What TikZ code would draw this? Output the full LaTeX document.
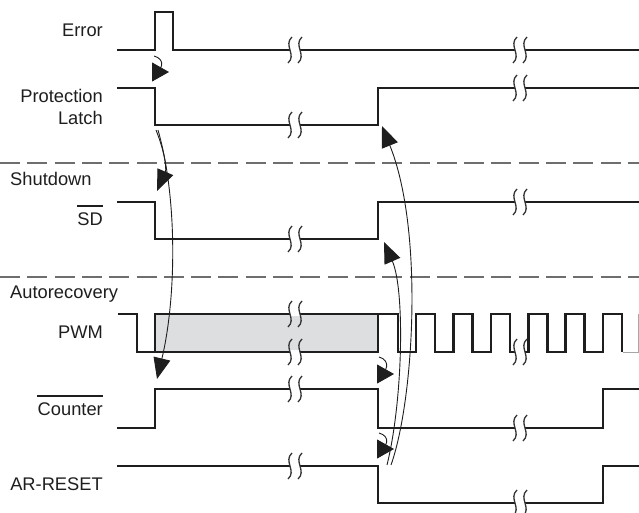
\documentclass[tikz,border=0pt]{standalone}
\usepackage{fontspec}
\setmainfont{Liberation Sans}
\usetikzlibrary{arrows.meta}
\definecolor{inkcolor}{RGB}{30,30,30}
\definecolor{shadecolor}{RGB}{221,222,223}
\definecolor{sepcolor}{RGB}{110,110,110}
\tikzset{
    timing/.style={
        x=1pt, y=-1pt,
        line join=miter,
    },
    sig/.style={draw=inkcolor, line width=2.6pt},
    faded/.style={draw=gray!70, line width=1pt},
    sepline/.style={draw=sepcolor, line width=1.3pt, dash pattern=on 20pt off 7.3pt},
    lbl/.style={font=\fontsize{18.3}{21}\selectfont, text=inkcolor, inner sep=0pt},
    bar/.style={draw=inkcolor, line width=1.8pt},
    brkline/.style={draw=black!80, line width=1.3pt},
    cause/.style={draw=inkcolor, line width=0.9pt, -{Triangle[length=21pt,width=17pt]}},
    nudge/.style={draw=inkcolor, line width=0.9pt, -{Triangle[length=17pt,width=19pt]}},
}
\newcommand{\brk}[2]{% \brk{x}{y}
    \fill[white] ({#1-5},{#2-2}) rectangle ({#1+5},{#2+2});
    \draw[brkline] ({#1-3},{#2-13}) .. controls ({#1-12},{#2-5}) and ({#1+2},{#2+5}) .. ({#1-7},{#2+13});
    \draw[brkline] ({#1+7},{#2-13}) .. controls ({#1-2},{#2-5}) and ({#1+12},{#2+5}) .. ({#1+3},{#2+13});
}
\newcommand{\ovl}[1]{% bar over a label node
    \draw[bar] ([yshift=6pt]#1.north west) -- ([yshift=6pt]#1.north east)
}

\begin{document}
\begin{tikzpicture}
            [timing]
            \useasboundingbox (0,0) rectangle (639,512);
            % labels
            \node[lbl, anchor=base east] (errlbl) at (103,36) {Error};
            \node[lbl, anchor=base east] (latchlbl) at (103,102) {Protection};
            \node[lbl, anchor=base east] (latchlblb) at (103,124) {Latch};
            \node[lbl, anchor=base west] (sdhead) at (10,185) {Shutdown};
            \node[lbl, anchor=base east] (sdlbl) at (103,225) {SD};
            \ovl{sdlbl};
            \node[lbl, anchor=base west] (arhead) at (10,298) {Autorecovery};
            \node[lbl, anchor=base east] (pwmlbl) at (103,338) {PWM};
            \node[lbl, anchor=base east] (cntlbl) at (103,415) {Counter};
            \ovl{cntlbl};
            \node[lbl, anchor=base east] (arlbl) at (103,490) {AR-RESET};
            % section lines
            \draw[sepline] (0,163) -- (639,163);
            \draw[sepline] (0,277) -- (639,277);
            % traces
            \draw[sig] (117,50) -- (155,50) -- (155,12) -- (173,12) -- (173,50) -- (639,50);
            \draw[sig] (117,88) -- (155,88) -- (155,125) -- (378,125) -- (378,88) -- (639,88);
            \draw[sig] (117,202) -- (155,202) -- (155,239) -- (378,239) -- (378,202) -- (639,202);
            \fill[shadecolor] (155,314) rectangle (378,352);
            \draw[sig] (118,314) -- (137,314) -- (137,352) -- (378,352) -- (378,314);
            \draw[sig] (155,352) -- (155,314) -- (398,314) -- (398,352)
                foreach \k in {0,...,5} {
                    -- ({416+37.4*\k},352) -- ({416+37.4*\k},314)
                    -- ({435+37.4*\k},314) -- ({435+37.4*\k},352)
                };
            \draw[faded] (623,352) -- (638.5,352) -- (638.5,314);
            \draw[sig] (117,428) -- (155,428) -- (155,389) -- (378,389) -- (378,428) -- (603,428) -- (603,389) -- (639,389);
            \draw[sig] (117,466) -- (378,466) -- (378,503) -- (603,503) -- (603,466) -- (639,466);
            % breaks
            \foreach \y in {50,125,239,314,352,389,466} {\brk{295}{\y}}
            \foreach \y in {50,88,202,352,428,503} {\brk{520}{\y}}
            % cause and effect
            \coordinate (errtail) at (154,56);
            \coordinate (latchin) at (169,72);
            \coordinate (latchfall) at (156,130);
            \coordinate (latchfallb) at (158,130);
            \coordinate (sdin) at (157,191);
            \coordinate (cntin) at (157,379);
            \coordinate (pwmtail) at (379,357);
            \coordinate (cntfall) at (394,374);
            \coordinate (cnttail) at (379,433);
            \coordinate (arfall) at (394,449);
            \coordinate (arrise) at (387,465);
            \coordinate (arriseb) at (391,465);
            \coordinate (sdrise) at (384,242);
            \coordinate (latchrise) at (382,126);
            \draw[nudge] (errtail) .. controls +(12,3) and +(-6,0) .. (latchin);
            \draw[nudge] (pwmtail) .. controls +(12,3) and +(-6,0) .. (cntfall);
            \draw[nudge] (cnttail) .. controls +(12,3) and +(-6,0) .. (arfall);
            \draw[cause] (latchfall) .. controls (164,150) and (167,168) .. (sdin);
            \draw[cause] (latchfallb) .. controls (178,200) and (176,300) .. (cntin);
            \draw[cause] (arrise) .. controls (403,400) and (405,290) .. (sdrise);
            \draw[cause] (arriseb) .. controls (414,400) and (424,230) .. (latchrise);
\end{tikzpicture}
\end{document}
